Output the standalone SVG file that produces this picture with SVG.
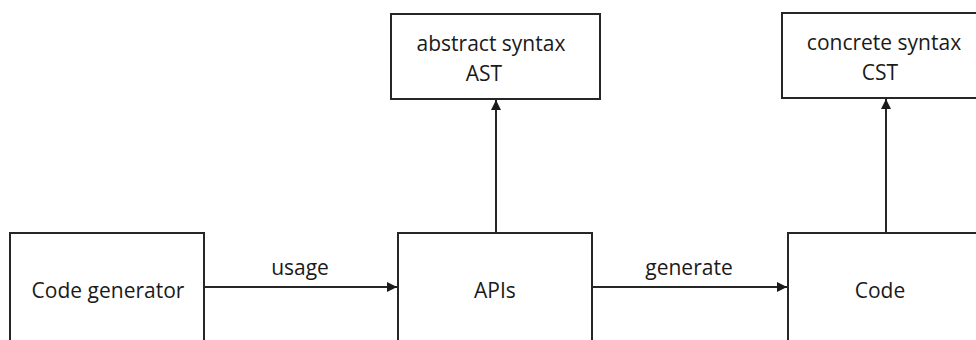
<svg xmlns="http://www.w3.org/2000/svg" width="976" height="340" viewBox="0 0 976 340">
  <style>
    .box { fill: #ffffff; stroke: #262626; stroke-width: 2; }
    .edge { fill: none; stroke: #262626; stroke-width: 2; }
    .label { font-family: "Open Sans", "Liberation Sans", Arial, sans-serif; font-size: 21px; fill: #1a1a1a; text-anchor: middle; }
  </style>
  <defs>
    <marker id="arrow" viewBox="0 0 10 10" refX="10" refY="5" markerWidth="6" markerHeight="5" markerUnits="strokeWidth" orient="auto">
      <path d="M0,0 L10,5 L0,10 z" fill="#1a1a1a"/>
    </marker>
  </defs>
  <rect width="976" height="340" fill="#ffffff"/>

  <g id="ast">
    <rect class="box" x="391" y="14" width="209" height="85"/>
    <text class="label" x="491" y="51">abstract syntax</text>
    <text class="label" x="484" y="81">AST</text>
  </g>

  <g id="cst">
    <rect class="box" x="782" y="13" width="210" height="85"/>
    <text class="label" x="884" y="50">concrete syntax</text>
    <text class="label" x="880" y="80">CST</text>
  </g>

  <g id="code-generator">
    <rect class="box" x="10" y="233" width="194" height="120"/>
    <text class="label" x="108" y="298">Code generator</text>
  </g>

  <g id="apis">
    <rect class="box" x="398" y="233" width="194" height="120"/>
    <text class="label" x="495" y="298">APIs</text>
  </g>

  <g id="code">
    <rect class="box" x="788" y="233" width="204" height="120"/>
    <text class="label" x="880" y="298">Code</text>
  </g>

  <g id="connectors">
    <line class="edge" x1="204" y1="287" x2="397" y2="287" marker-end="url(#arrow)"/>
    <text class="label" x="300" y="275">usage</text>
    <line class="edge" x1="592" y1="287" x2="787" y2="287" marker-end="url(#arrow)"/>
    <text class="label" x="689" y="275">generate</text>
    <line class="edge" x1="496" y1="233" x2="496" y2="100" marker-end="url(#arrow)"/>
    <line class="edge" x1="886" y1="233" x2="886" y2="99" marker-end="url(#arrow)"/>
  </g>
</svg>
